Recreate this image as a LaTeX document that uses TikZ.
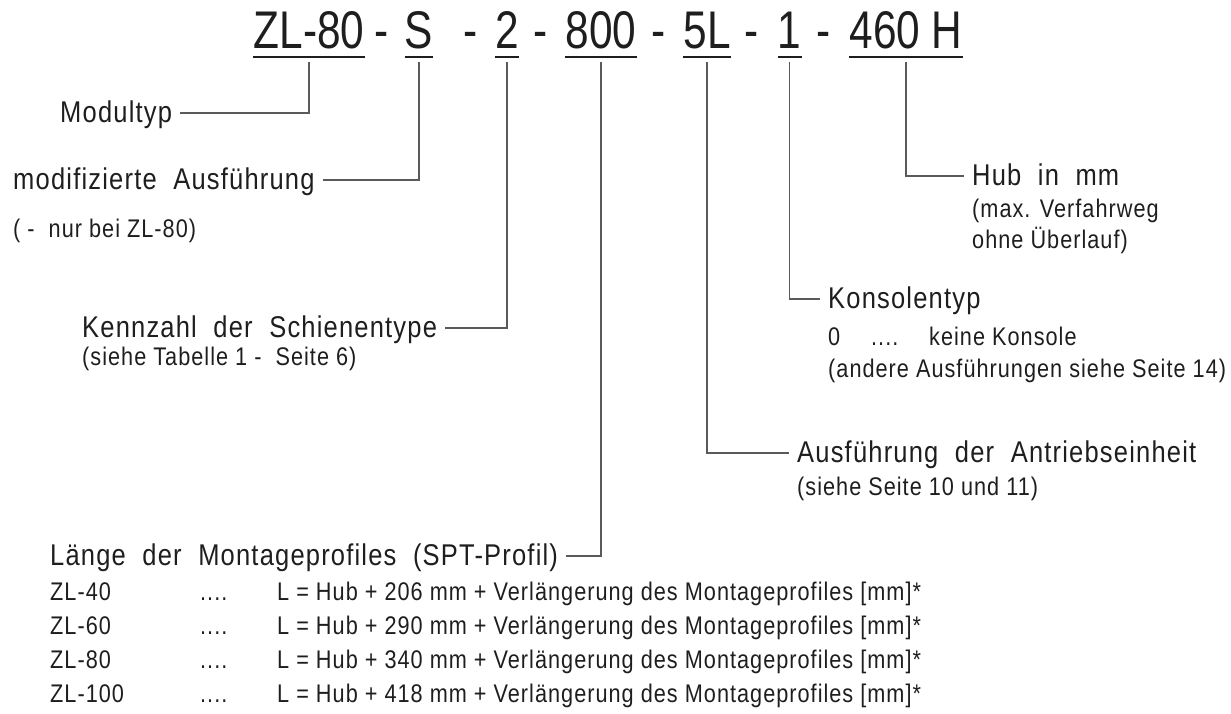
\documentclass[tikz,border=0pt]{standalone}
\usepackage{fontspec}
\setmainfont{Liberation Sans}[FakeStretch=0.85,LetterSpace=4]
\newfontfamily\lblfont{Liberation Sans}[FakeStretch=0.85,LetterSpace=4,WordSpace=2]
\newfontfamily\codefont{Liberation Sans}[FakeStretch=0.8]
\usepackage{tikz}
\usetikzlibrary{positioning}
\definecolor{inkgray}{HTML}{5A5A5A}
\definecolor{txt}{HTML}{1E1E1E}

\begin{document}
\begin{tikzpicture}[x=1pt, y=-1pt,
  code/.style={font=\codefont\fontsize{53}{60}\selectfont, text=txt, inner xsep=0pt,
               inner ysep=9pt, text depth=0pt, anchor=base},
  lbl/.style={font=\lblfont\fontsize{30}{36}\selectfont, text=txt, inner sep=0pt,
              text height=21.6pt, text depth=3.6pt, anchor=base west},
  note/.style={font=\fontsize{25.5}{30}\selectfont, text=txt, inner sep=0pt, anchor=base west},
  uline/.style={line width=2.4pt, txt},
  link/.style={line width=1.3pt, inkgray, shorten <=5pt, shorten >=8pt}]
\useasboundingbox (0,0) rectangle (1231,713);
% order code
\node[code] (zl) at (309,48) {ZL-80~};
\node[code] (s) at (419,48) {S};
\node[code] (rail) at (507,48) {2};
\node[code] (len) at (601,48) {800};
\node[code] (drive) at (707,48) {5L};
\node[code] (cons) at (789.5,48) {1};
\node[code] (stroke) at (906,48) {460 H};
\foreach \x in {382,471,541,659,752,824}
  \node[code] (dash\x) at (\x,48) {-};
\foreach \n in {zl,s,rail,len,drive,cons,stroke}
  \draw[uline] (\n.south west) -- (\n.south east);
% left side
\node[lbl] (modul) at (60,122) {Modultyp};
\node[lbl] (modif) at (13,189) {modifizierte Ausführung};
\node[note] (modifnote) at (13,237) {( -~~nur bei ZL-80)};
\node[lbl] (railtxt) at (82,337) {Kennzahl der Schienentype};
\node[note] (railnote) at (82,365) {(siehe Tabelle 1 -~~Seite 6)};
\node[lbl] (lentxt) at (50,565) {Länge der Montageprofiles (SPT-Profil)};
\foreach \zl/\mm [count=\i] in {ZL-40/206,ZL-60/290,ZL-80/340,ZL-100/418}
  \node[note] (row\i) at (50,566+34*\i)
    {\makebox[150pt][l]{\zl}\makebox[77pt][l]{....}L = Hub + \mm\ mm + Verlängerung des Montageprofiles [mm]*};
% right side
\node[lbl] (stroketxt) at (972,185) {Hub in mm};
\node[note] (strokenote) at (972,217) {(max. Verfahrweg};
\node[note] (strokenote2) at (972,248) {ohne Überlauf)};
\node[lbl] (constxt) at (828,308) {Konsolentyp};
\node[note] (consnone) at (828,345) {\makebox[43pt][l]{0}\makebox[58pt][l]{....}keine Konsole};
\node[note] (consnote) at (828,377) {(andere Ausführungen siehe Seite 14)};
\node[lbl] (drivetxt) at (797,462) {Ausführung der Antriebseinheit};
\node[note] (drivenote) at (797,495) {(siehe Seite 10 und 11)};
% connectors
\draw[link] (zl.south) |- (modul.east);
\draw[link] (s.south) |- (modif.east);
\draw[link] (rail.south) |- (railtxt.east);
\draw[link] (len.south) |- (lentxt.east);
\draw[link] (drive.south) |- (drivetxt.west);
\draw[link] (cons.south) |- (constxt.west);
\draw[link] (stroke.south) |- (stroketxt.west);
\end{tikzpicture}
\end{document}
